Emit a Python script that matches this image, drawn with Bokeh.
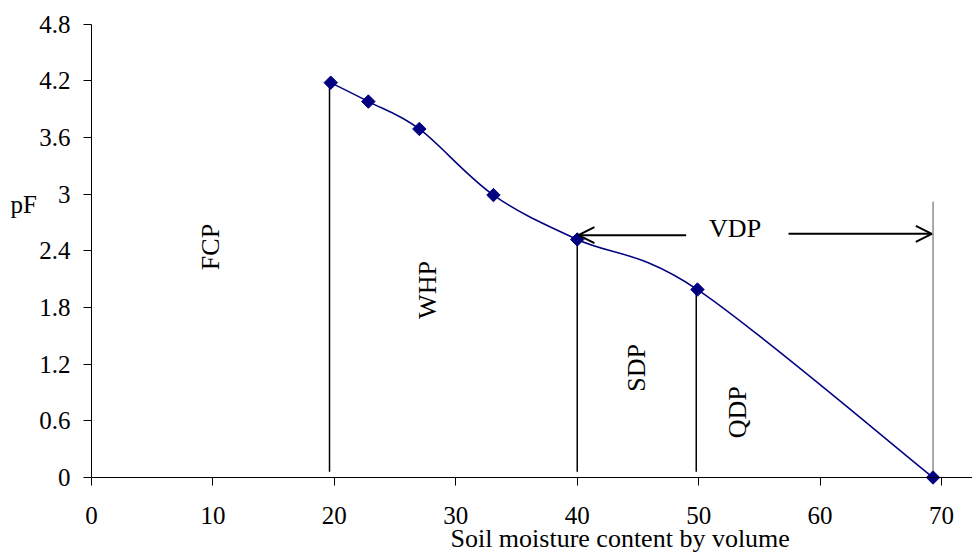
import numpy as np
from bokeh.plotting import figure
from bokeh.models import FixedTicker, Range1d, Label, Arrow, OpenHead
from bokeh.embed import file_html
from bokeh.resources import INLINE

# ---- data ----
moisture = [19.7, 22.8, 27.0, 33.1, 40.0, 49.9, 69.3]
pf = [4.18, 3.98, 3.69, 2.99, 2.52, 1.99, 0.0]

x_ticks = [0, 10, 20, 30, 40, 50, 60, 70]
y_ticks = [0, 0.6, 1.2, 1.8, 2.4, 3.0, 3.6, 4.2, 4.8]
y_tick_labels = ["0", "0.6", "1.2", "1.8", "2.4", "3", "3.6", "4.2", "4.8"]

# boundary lines (x, top)
bound_x = [19.6, 40.0, 49.8]
bound_top = [4.18, 2.52, 1.99]
sat_x = 69.3
sat_top = 2.92

zone_names = ["FCP", "WHP", "SDP", "QDP"]
zone_x = [9.8, 27.7, 44.85, 53.2]
zone_y = [2.44, 1.985, 1.16, 0.69]

FONT = "Liberation Serif"

# the frame fills the whole canvas; the axes are drawn at x=0 / y=0 inside it
X0, X1 = -7.494, 72.55
Y0, Y1 = -0.794, 5.050
p = figure(width=972, height=552, output_backend="svg", toolbar_location=None,
           x_range=Range1d(X0, X1), y_range=Range1d(Y0, Y1),
           min_border=0, min_border_left=0, min_border_right=0,
           min_border_top=0, min_border_bottom=0)
p.grid.visible = False
p.outline_line_color = None
p.background_fill_color = "white"

for ax in (p.xaxis[0], p.yaxis[0]):
    ax.fixed_location = 0
    ax.axis_line_color = "black"
    ax.axis_line_width = 1
    ax.major_tick_line_color = "black"
    ax.major_tick_out = 8
    ax.major_tick_in = 0
    ax.minor_tick_line_color = None
    ax.major_label_text_font = FONT
    ax.major_label_text_font_size = "25px"
    ax.major_label_text_color = "black"

p.xaxis[0].ticker = FixedTicker(ticks=x_ticks)
p.yaxis[0].ticker = FixedTicker(ticks=y_ticks)
p.xaxis[0].bounds = (0, X1)
p.yaxis[0].bounds = (0, 4.8)
p.yaxis[0].major_label_overrides = {t: l for t, l in zip(y_ticks, y_tick_labels)}
p.xaxis[0].major_label_standoff = 21
p.yaxis[0].major_label_standoff = 13

# boundary vertical lines
p.segment(x0=bound_x, y0=[0.06] * len(bound_x), x1=bound_x, y1=bound_top,
          line_color="black", line_width=1.5)
p.segment(x0=[sat_x], y0=[0.07], x1=[sat_x], y1=[sat_top], line_color="#555555", line_width=1)

# smoothed curve (Bezier through data points)
xs = np.array(moisture, dtype=float)
ys = np.array(pf, dtype=float)
n = len(xs)
px = np.concatenate([[xs[0]], xs, [xs[-1]]])
py = np.concatenate([[ys[0]], ys, [ys[-1]]])
x0, y0, x1, y1, cx0, cy0, cx1, cy1 = [], [], [], [], [], [], [], []
for i in range(n - 1):
    a, b = i + 1, i + 2
    x0.append(px[a]); y0.append(py[a]); x1.append(px[b]); y1.append(py[b])
    cx0.append(px[a] + (px[b] - px[a - 1]) / 6); cy0.append(py[a] + (py[b] - py[a - 1]) / 6)
    cx1.append(px[b] - (px[b + 1] - px[a]) / 6); cy1.append(py[b] - (py[b + 1] - py[a]) / 6)
p.bezier(x0=x0, y0=y0, x1=x1, y1=y1, cx0=cx0, cy0=cy0, cx1=cx1, cy1=cy1,
         line_color="#000080", line_width=1.5)

p.scatter(moisture, pf, marker="square", angle=np.pi / 4, size=9.5,
          fill_color="#000080", line_color="#000080")

# VDP arrows
p.add_layout(Arrow(end=OpenHead(size=16, line_width=2, line_color="black"),
                   x_start=48.97, y_start=2.565, x_end=40.1, y_end=2.565,
                   line_width=2, line_color="black"))
p.add_layout(Arrow(end=OpenHead(size=16, line_width=2, line_color="black"),
                   x_start=57.4, y_start=2.58, x_end=69.2, y_end=2.58,
                   line_width=2, line_color="black"))
p.add_layout(Label(x=53.0, y=2.64, text="VDP", text_font=FONT, text_font_size="26px",
                   text_align="center", text_baseline="middle", text_color="black"))

for name, zx, zy in zip(zone_names, zone_x, zone_y):
    p.add_layout(Label(x=zx, y=zy, text=name, angle=np.pi / 2, text_font=FONT,
                       text_font_size="26px", text_align="center", text_baseline="middle",
                       text_color="black"))

# axis titles
p.add_layout(Label(x=-6.67, y=2.89, text="pF", text_font=FONT, text_font_size="25px",
                   text_align="left", text_baseline="alphabetic", text_color="black"))
p.add_layout(Label(x=29.56, y=-0.646, text="Soil moisture content by volume", text_font=FONT,
                   text_font_size="26px", text_align="left", text_baseline="alphabetic",
                   text_color="black"))

open("out.html", "w").write(file_html(p, INLINE))
